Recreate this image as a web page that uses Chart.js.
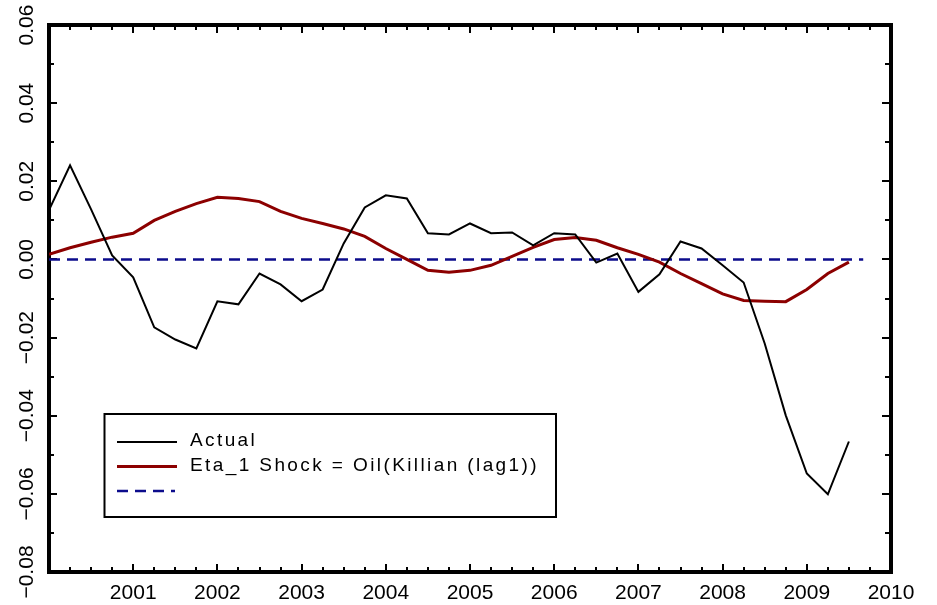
<!DOCTYPE html>
<html><head><meta charset="utf-8">
<script src="https://cdn.jsdelivr.net/npm/chart.js@4"></script>
<style>html,body{margin:0;padding:0;background:#fff}canvas{display:block}</style>
</head><body>
<canvas id="c" width="937" height="605"></canvas>
<script>
// ---- data ----
const quarterDates = [2000.00,2000.25,2000.50,2000.75,2001.00,2001.25,2001.50,2001.75,2002.00,2002.25,2002.50,2002.75,2003.00,2003.25,2003.50,2003.75,2004.00,2004.25,2004.50,2004.75,2005.00,2005.25,2005.50,2005.75,2006.00,2006.25,2006.50,2006.75,2007.00,2007.25,2007.50,2007.75,2008.00,2008.25,2008.50,2008.75,2009.00,2009.25,2009.50];
const actualValues = [0.0126,0.0241,0.0128,0.0010,-0.0046,-0.0174,-0.0205,-0.0228,-0.0107,-0.0115,-0.0036,-0.0064,-0.0107,-0.0077,0.0041,0.0133,0.0164,0.0156,0.0067,0.0064,0.0092,0.0067,0.0069,0.0036,0.0067,0.0064,-0.0008,0.0015,-0.0083,-0.0038,0.0046,0.0028,-0.0015,-0.0059,-0.0215,-0.0399,-0.0548,-0.0601,-0.0466];
const etaShockValues = [0.0013,0.0030,0.0044,0.0057,0.0067,0.0100,0.0123,0.0143,0.0159,0.0156,0.0148,0.0123,0.0105,0.0092,0.0078,0.0059,0.0028,0.0000,-0.0028,-0.0033,-0.0028,-0.0015,0.0008,0.0031,0.0051,0.0056,0.0049,0.0030,0.0013,-0.0007,-0.0036,-0.0062,-0.0088,-0.0105,-0.0107,-0.0108,-0.0077,-0.0036,-0.0007];
const zeroLineDates = [2000, 2009.67];
const zeroLineValues = [0, 0];
const seriesLabels = ['Actual', 'Eta_1 Shock = Oil(Killian (lag1))', ''];
const xTickYears = [2001,2002,2003,2004,2005,2006,2007,2008,2009,2010];
const xTickLabels = ['2001','2002','2003','2004','2005','2006','2007','2008','2009','2010'];
const yTickValues = [0.06,0.04,0.02,0.00,-0.02,-0.04,-0.06,-0.08];
const yTickLabels = ['0.06','0.04','0.02','0.00','\u22120.02','\u22120.04','\u22120.06','\u22120.08'];

const toPoints = (xs, ys) => xs.map((x, i) => ({x: x, y: ys[i]}));
const FONT = "'Liberation Sans', Arial, sans-serif";

const legendBoxPlugin = {
  id: 'legendBox',
  afterDatasetsDraw(chart) {
    const ctx = chart.ctx;
    const ds = chart.data.datasets;
    const L = 104.5, T = 414, W = 451.5, H = 103;
    ctx.save();
    ctx.fillStyle = '#fff'; ctx.fillRect(L, T, W, H);
    ctx.lineWidth = 2; ctx.strokeStyle = '#000'; ctx.strokeRect(L, T, W, H);
    ds.forEach((d, i) => {
      const y = 442 + i * 24.5;
      ctx.beginPath();
      ctx.setLineDash(d.borderDash || []);
      ctx.lineWidth = d.borderWidth; ctx.strokeStyle = d.borderColor;
      ctx.moveTo(117, y); ctx.lineTo(d.borderDash ? 175 : 177, y); ctx.stroke();
      ctx.setLineDash([]);
      ctx.fillStyle = '#000'; ctx.font = "19px " + FONT;
      try { ctx.letterSpacing = '2.4px'; } catch (e) {}
      ctx.textBaseline = 'middle'; ctx.textAlign = 'left';
      ctx.fillText(d.label, 190, y - 1);
      try { ctx.letterSpacing = '0px'; } catch (e) {}
    });
    ctx.restore();
  }
};

function tickAxis(position, step, len, weight, border) {
  return {
    type: 'linear', position: position, weight: weight,
    min: (position === 'top' || position === 'bottom') ? 2000 : -0.08,
    max: (position === 'top' || position === 'bottom') ? 2010 : 0.06,
    ticks: {display: false, stepSize: step, autoSkip: false},
    grid: {display: true, drawOnChartArea: false, drawTicks: true, tickLength: len, tickWidth: 2, tickColor: '#000', lineWidth: 4},
    border: border ? {display: true, width: 4, color: '#000'} : {display: false},
    afterFit(s) { if (position === 'top' || position === 'bottom') s.height = 0; else s.width = 0; }
  };
}

new Chart(document.getElementById('c'), {
  type: 'line',
  data: {
    datasets: [
      {label: seriesLabels[0], data: toPoints(quarterDates, actualValues), borderColor: '#000000', borderWidth: 2, pointRadius: 0, tension: 0, xAxisID: 'x', yAxisID: 'y'},
      {label: seriesLabels[1], data: toPoints(quarterDates, etaShockValues), borderColor: '#8c0000', borderWidth: 3, pointRadius: 0, tension: 0, xAxisID: 'x', yAxisID: 'y'},
      {label: seriesLabels[2], data: toPoints(zeroLineDates, zeroLineValues), borderColor: '#0c0c8c', borderWidth: 2.5, borderDash: [11, 7], pointRadius: 0, tension: 0, xAxisID: 'x', yAxisID: 'y'}
    ]
  },
  options: {
    responsive: false, animation: false, devicePixelRatio: 1,
    layout: {padding: {top: 25, right: 46, bottom: 0, left: 0}},
    plugins: {legend: {display: false}, tooltip: {enabled: false}},
    scales: {
      x: {
        type: 'linear', position: 'bottom', min: 2000, max: 2010,
        afterBuildTicks(s) { s.ticks = xTickYears.map(v => ({value: v})); },
        ticks: {
          autoSkip: false, maxRotation: 0, minRotation: 0, color: '#000', padding: 17,
          font: {family: FONT, size: 21},
          callback(v) { const i = xTickYears.indexOf(v); return i >= 0 ? xTickLabels[i] : ''; }
        },
        grid: {display: true, drawOnChartArea: false, drawTicks: true, tickLength: -8, tickWidth: 2, tickColor: '#000', lineWidth: 4},
        border: {display: true, width: 4, color: '#000'},
        afterFit(s) { s.height = 33; }
      },
      xMinor: tickAxis('bottom', 0.25, -5, -1, false),
      xTop: tickAxis('top', 0.25, -5, -1, true),
      xTopMajor: tickAxis('top', 1, -8, -2, false),
      y: {
        type: 'linear', position: 'left', min: -0.08, max: 0.06,
        afterBuildTicks(s) { s.ticks = yTickValues.map(v => ({value: v})); },
        ticks: {
          autoSkip: false, minRotation: 90, maxRotation: 90, crossAlign: 'center', color: '#000', padding: 3,
          font: {family: FONT, size: 21},
          callback(v) { const i = yTickValues.indexOf(v); return i >= 0 ? yTickLabels[i] : ''; }
        },
        grid: {display: true, drawOnChartArea: false, drawTicks: true, tickLength: -8, tickWidth: 2, tickColor: '#000', lineWidth: 4},
        border: {display: true, width: 4, color: '#000'},
        afterFit(s) { s.width = 49; }
      },
      yMinor: tickAxis('left', 0.01, -5, -1, false),
      yRight: tickAxis('right', 0.01, -6, -1, true),
      yRightMajor: tickAxis('right', 0.02, -9, -2, false)
    }
  },
  plugins: [legendBoxPlugin]
});
</script>
</body></html>
